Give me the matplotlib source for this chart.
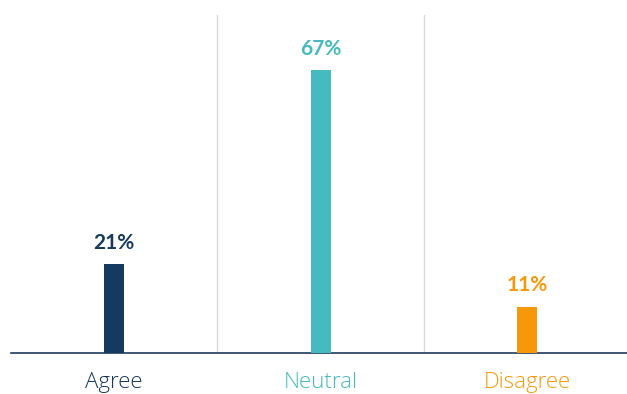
import matplotlib.pyplot as plt

# survey answers
categories = ['Agree', 'Neutral', 'Disagree']
values = [21, 67, 11]
colors = ['#163a5f', '#45babf', '#f7980a']

plt.rcParams['font.family'] = ['Lato', 'DejaVu Sans']

fig = plt.figure(figsize=(6.27, 3.94), dpi=100)
ax = fig.add_axes([10.7 / 627, 41 / 394, 620 / 627, 338 / 394])

x = list(range(len(categories)))
bars = ax.bar(x, values, width=0.097, color=colors, zorder=3)

# light separators between the groups
for sep in [0.5, 1.5]:
    ax.axvline(sep, color='#d9d9d9', lw=1, zorder=1)

for b, v, c in zip(bars, values, colors):
    ax.annotate('{}%'.format(v), (b.get_x() + b.get_width() / 2, v),
                xytext=(0, 8), textcoords='offset points',
                ha='center', va='bottom', fontsize=15, fontweight='bold', color=c)

ax.set_xlim(-0.5, 2.5)
ax.set_ylim(0, 80)
ax.set_yticks([])
ax.set_xticks(x)
ax.set_xticklabels(categories, fontsize=16, fontweight='normal', family=['Open Sans', 'DejaVu Sans'])
for lbl, c in zip(ax.get_xticklabels(), colors):
    lbl.set_color(c)
    lbl.set_fontweight(300)
ax.tick_params(axis='x', length=0, pad=14)

for s in ['top', 'right', 'left']:
    ax.spines[s].set_visible(False)
ax.spines['bottom'].set_color('#1f3a5a')
ax.spines['bottom'].set_linewidth(1.2)

fig.savefig('out.png', dpi=100)
